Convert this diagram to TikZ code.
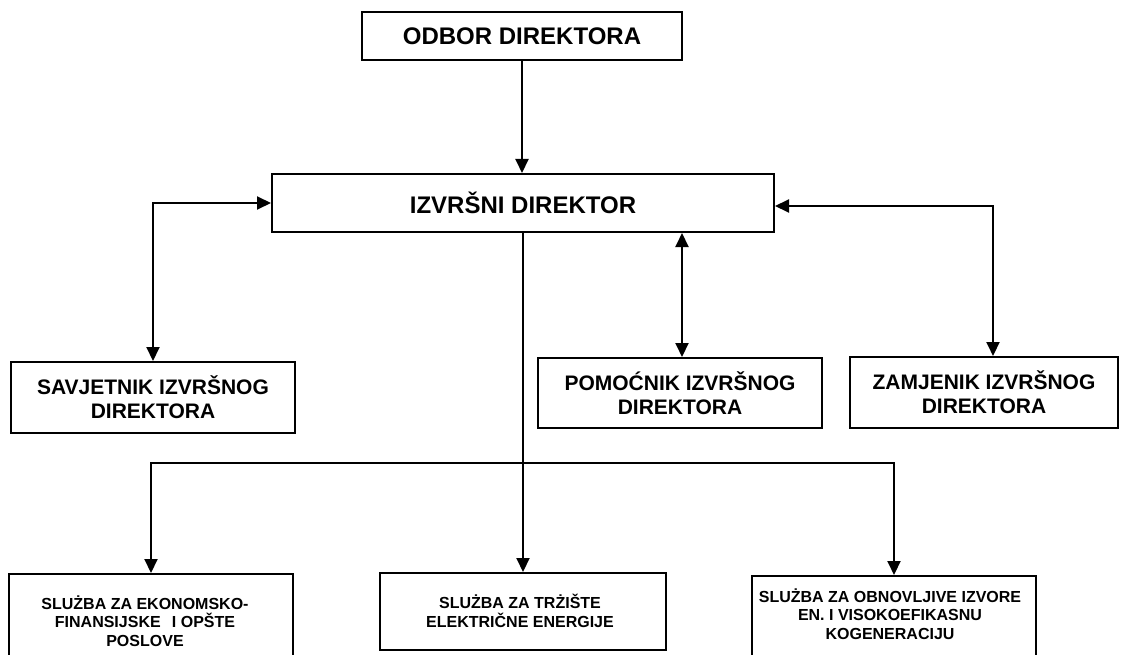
\documentclass[tikz,border=0pt]{standalone}
\usepackage{fontspec}
\setmainfont{Liberation Sans}
\usetikzlibrary{arrows.meta,calc}
\begin{document}
\begin{tikzpicture}[x=1pt,y=-1pt,
  box/.style={draw=black,line width=2pt,fill=white,rectangle,inner sep=0pt,align=center,font=\bfseries},
  big/.style={font=\fontsize{24}{26}\selectfont\bfseries},
  mid/.style={font=\fontsize{21}{24}\selectfont\bfseries},
  small/.style={font=\fontsize{16}{18.5}\selectfont\bfseries, align=center, inner sep=0pt},
  conn/.style={line width=2pt},
  tip/.tip={Triangle[length=14pt,width=13pt]}
]
\useasboundingbox (0,0) rectangle (1123,655);
\clip (0,0) rectangle (1123,655);
\fill[white] (0,0) rectangle (1123,655);

% top
\node[box,big,minimum width=320pt,minimum height=48pt] (odbor) at (522,36) {ODBOR DIREKTORA};
\node[box,big,minimum width=502pt,minimum height=58pt] (izv) at (523,203) {IZVRŠNI DIREKTOR};

% middle row
\node[box,mid,minimum width=284pt,minimum height=71pt] (sav) at (153,397.5) {SAVJETNIK IZVRŠNOG\\DIREKTORA};
\node[box,mid,minimum width=284pt,minimum height=70pt] (pom) at (680,393) {POMOĆNIK IZVRŠNOG\\DIREKTORA};
\node[box,mid,minimum width=268pt,minimum height=71pt] (zam) at (984,392.5) {ZAMJENIK IZVRŠNOG\\DIREKTORA};

% bottom row
\node[box,minimum width=284pt,minimum height=100pt,anchor=north] (s1) at (151,573) {};
\node[small] (s1t) at (145,621) {SLUŻBA ZA EKONOMSKO-\\FINANSIJSKE\hspace{0.7em}I OPŠTE\\POSLOVE};
\node[box,minimum width=286pt,minimum height=77pt,anchor=north] (s2) at (523,572) {};
\node[small] (s2t) at (520,611) {SLUŻBA ZA TRŻIŠTE\\ELEKTRIČNE ENERGIJE};
\node[box,minimum width=284pt,minimum height=100pt,anchor=north] (s3) at (894,575) {};
\node[small] (s3t) at (890,614) {SLUŻBA ZA OBNOVLJIVE IZVORE\\EN. I VISOKOEFIKASNU\\KOGENERACIJU};

% connectors
\draw[conn,-tip] (odbor.south) -- (odbor.south |- izv.north);
\draw[conn,tip-tip] (izv.west) -| (sav.north);
\draw[conn,tip-tip] (pom.north -| 682,0) -- (izv.south -| 682,0);
\coordinate (zamtop) at ([xshift=9pt]zam.north);
\draw[conn,tip-tip] ([yshift=-3pt]izv.east) -| (zamtop);
\draw[conn,-tip] (izv.south) -- (s2.north);
\coordinate (j) at (izv.south |- 0,463);
\draw[conn,-tip] (j) -| (s1.north);
\draw[conn,-tip] (j) -| (s3.north);
\end{tikzpicture}
\end{document}
